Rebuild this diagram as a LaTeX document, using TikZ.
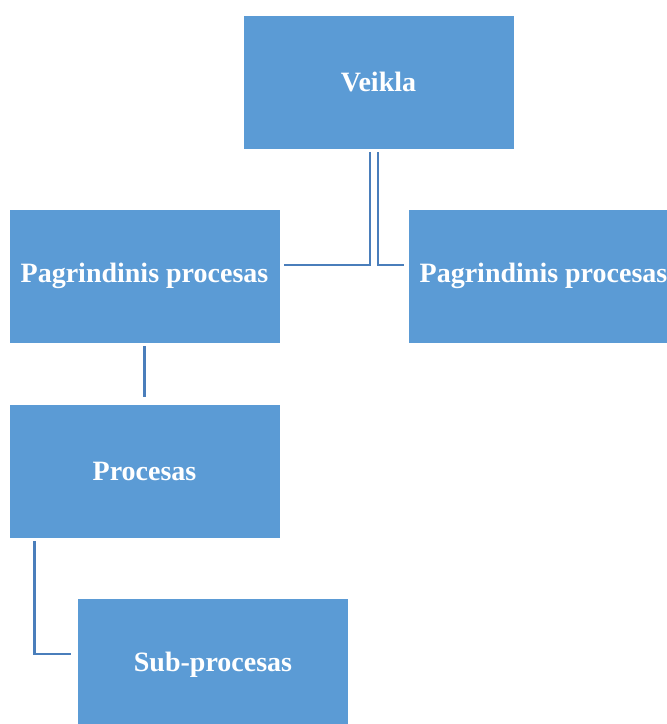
\documentclass[tikz,border=0pt]{standalone}
\usepackage{fontspec}
\setmainfont{Liberation Serif}
\usetikzlibrary{positioning}
\definecolor{boxblue}{HTML}{5B9BD5}
\definecolor{lineblue}{HTML}{4A7EBB}
\begin{document}
\begin{tikzpicture}[x=1pt,y=-1pt,
  box/.style={fill=boxblue,draw=white,line width=.6pt,minimum width=271pt,minimum height=134pt,inner sep=0pt,text=white,font=\fontsize{28}{34}\selectfont\bfseries},
  conn/.style={draw=lineblue,line width=2.8pt,shorten <=3pt,shorten >=4pt}]
\clip (0,0) rectangle (667,724);
\useasboundingbox (0,0) rectangle (667,724);
\coordinate (c0) at (378.5,82);
\coordinate (c1) at (144.5,276);
\coordinate (c2) at (543.5,276);
\coordinate (c3) at (144.5,471);
\coordinate (c4) at (213,665);
\node[box] (veikla) at (c0) {Veikla};
\node[box] (pag1) at (c1) {Pagrindinis procesas};
\node[box] (pag2) at (c2) {Pagrindinis procesas};
\node[box] (proc) at (c3) {Procesas};
\node[box] (sub) at (c4) {Sub-procesas};
\draw[conn] ([xshift=-8.5pt]veikla.south) |- ([yshift=11pt]pag1.east);
\draw[conn] ([xshift=-0.5pt]veikla.south) |- ([yshift=11pt]pag2.west);
\draw[conn,shorten >=7pt] (pag1.south) -- (proc.north);
\draw[conn,shorten >=6pt] ([xshift=26pt]proc.south west) |- ([yshift=11pt]sub.west);
\end{tikzpicture}
\end{document}
